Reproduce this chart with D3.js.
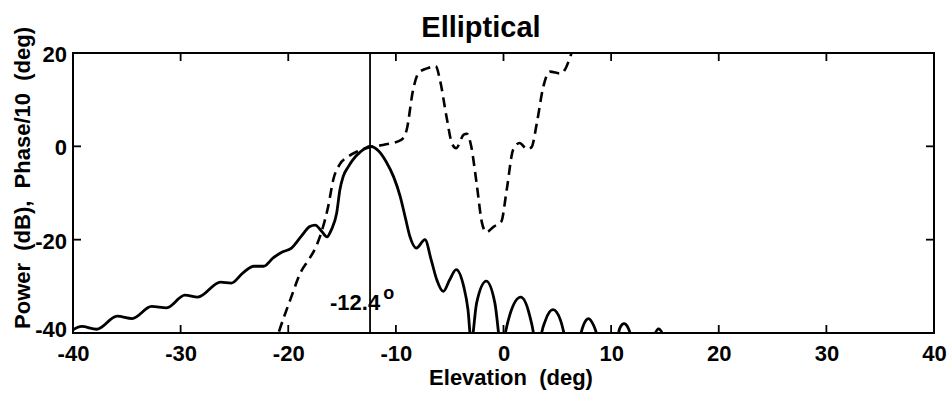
<!DOCTYPE html>
<html>
<head>
<meta charset="utf-8">
<script src="https://cdn.jsdelivr.net/npm/d3@7"></script>
<style>
  html, body { margin: 0; padding: 0; background: #fff; }
  svg text { font-family: "Liberation Sans", Arial, Helvetica, sans-serif; font-weight: bold; fill: #000; }
</style>
</head>
<body>
<svg id="chart" width="952" height="394"></svg>
<script>
// Elevation pattern of the elliptical aperture: power (dB) and phase/10 (deg)
const powerElevation = [-40.0, -39.2, -37.8, -35.9, -34.5, -32.7, -31.3, -29.6, -28.4, -26.3, -25.3, -24.2,
  -23.2, -22.3, -21.4, -20.6, -19.7, -18.8, -18.0, -17.5, -16.9, -16.4, -16.0, -15.5, -15.2, -14.9, -14.4,
  -14.0, -13.3, -12.4, -11.6, -10.9, -10.2, -9.6, -9.1, -8.7, -8.1, -7.3, -6.7, -6.2, -5.6, -5.0, -4.4,
  -3.7, -3.3, -3.0, -2.5, -1.6, -0.8, -0.15, 0.0, 0.6, 1.6, 2.4, 2.9, 3.2, 3.4, 3.9, 4.6, 5.3, 5.8,
  6.4, 7.0, 7.4, 7.9, 8.4, 8.9, 9.8, 10.6, 10.8, 11.2, 11.6, 11.9, 12.9, 13.9, 14.4, 14.9, 15.6];
const powerDb = [-39.3, -38.6, -39.2, -36.4, -36.9, -34.3, -34.6, -31.9, -32.3, -29.1, -29.3, -27.1,
  -25.7, -25.7, -23.9, -22.7, -21.8, -19.3, -17.2, -16.9, -18.2, -19.4, -17.9, -14.3, -9.3, -6.5, -4.3,
  -2.9, -1.2, 0.0, -1.0, -3.3, -6.6, -10.7, -15.5, -19.3, -21.8, -20.0, -24.5, -28.6, -31.1, -28.6, -26.4,
  -30.0, -35.0, -42.0, -33.6, -28.9, -33.6, -44.0, -42.0, -36.0, -32.3, -36.0, -42.0, -50.0, -42.0, -37.3, -35.0, -37.3, -42.0,
  -50.0, -42.0, -38.5, -36.9, -38.5, -42.0, -50.0, -41.0, -39.0, -38.0, -39.0, -41.0, -50.0, -41.0, -39.1, -41.0, -50.0];

const phaseElevation = [-21.3, -20.9, -19.8, -18.8, -18.1, -17.4, -16.8, -16.3, -15.8, -15.2, -14.5, -13.6,
  -12.4, -11.2, -9.5, -9.0, -8.4, -7.9, -7.1, -6.3, -5.9, -5.3, -4.8, -4.4, -3.7, -3.4, -3.0, -2.5, -2.0,
  -1.6, -0.9, -0.2, 0.3, 0.9, 1.5, 2.2, 2.6, 3.1, 3.7, 4.3, 5.3, 5.7, 6.2, 6.6];
const phaseDiv10 = [-43.0, -40.0, -32.8, -26.8, -24.3, -21.4, -17.5, -13.0, -7.0, -3.8, -2.3, -1.1,
  -0.2, 0.3, 1.4, 3.5, 12.1, 15.7, 16.7, 17.2, 14.2, 6.4, 0.7, -0.4, 2.5, 2.7, 0.0, -7.9, -16.4,
  -18.4, -17.2, -16.1, -9.3, -0.7, 0.7, -0.6, -0.2, 5.0, 12.8, 16.0, 15.6, 16.4, 19.2, 22.0];

const beamPeak = -12.4;
const xTicks = [-40, -30, -20, -10, 0, 10, 20, 30, 40];
const yTicks = [-40, -20, 0, 20];

const svg = d3.select("#chart");
const plot = { left: 73, right: 934, top: 53, bottom: 333 };

const x = d3.scaleLinear().domain([-40, 40]).range([plot.left, plot.right]);
const y = d3.scaleLinear().domain([-40, 20]).range([plot.bottom, plot.top]);

svg.append("defs").append("clipPath").attr("id", "plot-clip")
  .append("rect")
  .attr("x", plot.left).attr("y", plot.top)
  .attr("width", plot.right - plot.left).attr("height", plot.bottom - plot.top);

const line = d3.line()
  .x(d => x(d[0]))
  .y(d => y(d[1]))
  .curve(d3.curveMonotoneX);

const curves = svg.append("g").attr("clip-path", "url(#plot-clip)");

// phase / 10 (dashed)
curves.append("path")
  .datum(d3.zip(phaseElevation, phaseDiv10))
  .attr("d", line)
  .attr("fill", "none")
  .attr("stroke", "#000")
  .attr("stroke-width", 2.6)
  .attr("stroke-dasharray", "10,6");

// power (solid)
curves.append("path")
  .datum(d3.zip(powerElevation, powerDb))
  .attr("d", line)
  .attr("fill", "none")
  .attr("stroke", "#000")
  .attr("stroke-width", 2.8)
  .attr("stroke-linejoin", "round");

// beam peak marker
svg.append("line")
  .attr("x1", x(beamPeak)).attr("x2", x(beamPeak))
  .attr("y1", plot.top).attr("y2", plot.bottom)
  .attr("stroke", "#000").attr("stroke-width", 1.8);

// axes with inward ticks on all four sides
const tickLen = 8;
const innerX = xTicks.slice(1, -1);
const innerY = yTicks.slice(1, -1);
const plain = d => String(d);

const bottomAxis = d3.axisBottom(x).tickValues(xTicks).tickSize(0).tickFormat(plain);
const gB = svg.append("g").attr("transform", `translate(0,${plot.bottom})`).call(bottomAxis);
gB.select(".domain").remove();
gB.selectAll("text").attr("font-size", 22).attr("font-family", null)
  .attr("dy", null).attr("y", 28);

const leftAxis = d3.axisLeft(y).tickValues(yTicks).tickSize(0).tickPadding(6).tickFormat(plain);
const gL = svg.append("g").attr("transform", `translate(${plot.left},0)`).call(leftAxis);
gL.select(".domain").remove();
gL.selectAll("text").attr("font-size", 22).attr("font-family", null)
  .attr("dy", d => d === -40 ? "0.16em" : "0.38em");

const ticks = svg.append("g").attr("stroke", "#000").attr("stroke-width", 1.8);
innerX.forEach(v => {
  ticks.append("line").attr("x1", x(v)).attr("x2", x(v)).attr("y1", plot.bottom).attr("y2", plot.bottom - tickLen);
  ticks.append("line").attr("x1", x(v)).attr("x2", x(v)).attr("y1", plot.top).attr("y2", plot.top + tickLen);
});
innerY.forEach(v => {
  ticks.append("line").attr("x1", plot.left).attr("x2", plot.left + tickLen).attr("y1", y(v)).attr("y2", y(v));
  ticks.append("line").attr("x1", plot.right).attr("x2", plot.right - tickLen).attr("y1", y(v)).attr("y2", y(v));
});

// frame
svg.append("rect")
  .attr("x", plot.left).attr("y", plot.top)
  .attr("width", plot.right - plot.left).attr("height", plot.bottom - plot.top)
  .attr("fill", "none").attr("stroke", "#000").attr("stroke-width", 2);

// beam peak annotation
const ann = svg.append("text")
  .attr("x", x(beamPeak) - 40).attr("y", 310)
  .attr("font-size", 22);
ann.append("tspan").text(beamPeak.toFixed(1));
ann.append("tspan").attr("font-size", 18).attr("dy", -11).attr("dx", 3).text("o");

// titles
svg.append("text")
  .attr("x", 481).attr("y", 37)
  .attr("text-anchor", "middle")
  .attr("font-size", 29)
  .text("Elliptical");

svg.append("text")
  .attr("x", 511).attr("y", 385)
  .attr("text-anchor", "middle")
  .attr("font-size", 22)
  .attr("xml:space", "preserve")
  .text("Elevation  (deg)");

svg.append("text")
  .attr("transform", "translate(30,178) rotate(-90)")
  .attr("text-anchor", "middle")
  .attr("font-size", 22)
  .attr("xml:space", "preserve")
  .text("Power  (dB),  Phase/10  (deg)");
</script>
</body>
</html>
